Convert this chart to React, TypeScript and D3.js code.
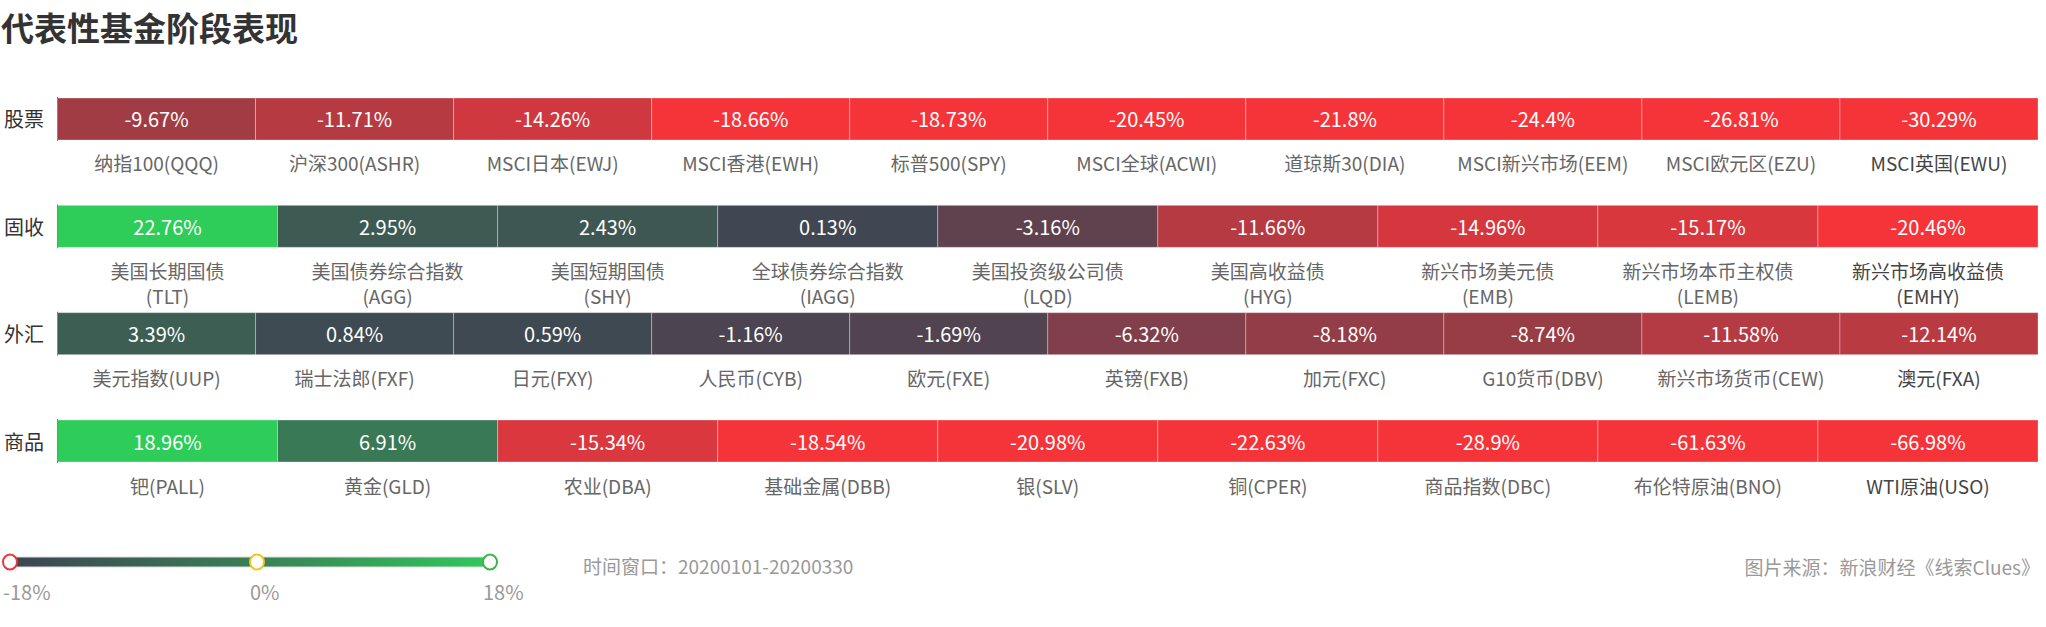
import React, { useEffect, useRef } from 'react';
import * as d3 from 'd3';

const rowNames = ['股票', '固收', '外汇', '商品'];

const stockLabels = ['纳指100(QQQ)', '沪深300(ASHR)', 'MSCI日本(EWJ)', 'MSCI香港(EWH)', '标普500(SPY)', 'MSCI全球(ACWI)', '道琼斯30(DIA)', 'MSCI新兴市场(EEM)', 'MSCI欧元区(EZU)', 'MSCI英国(EWU)'];
const stockValues = [-9.67, -11.71, -14.26, -18.66, -18.73, -20.45, -21.8, -24.4, -26.81, -30.29];

const bondLabels = ['美国长期国债\n(TLT)', '美国债券综合指数\n(AGG)', '美国短期国债\n(SHY)', '全球债券综合指数\n(IAGG)', '美国投资级公司债\n(LQD)', '美国高收益债\n(HYG)', '新兴市场美元债\n(EMB)', '新兴市场本币主权债\n(LEMB)', '新兴市场高收益债\n(EMHY)'];
const bondValues = [22.76, 2.95, 2.43, 0.13, -3.16, -11.66, -14.96, -15.17, -20.46];

const fxLabels = ['美元指数(UUP)', '瑞士法郎(FXF)', '日元(FXY)', '人民币(CYB)', '欧元(FXE)', '英镑(FXB)', '加元(FXC)', 'G10货币(DBV)', '新兴市场货币(CEW)', '澳元(FXA)'];
const fxValues = [3.39, 0.84, 0.59, -1.16, -1.69, -6.32, -8.18, -8.74, -11.58, -12.14];

const commodityLabels = ['钯(PALL)', '黄金(GLD)', '农业(DBA)', '基础金属(DBB)', '银(SLV)', '铜(CPER)', '商品指数(DBC)', '布伦特原油(BNO)', 'WTI原油(USO)'];
const commodityValues = [18.96, 6.91, -15.34, -18.54, -20.98, -22.63, -28.9, -61.63, -66.98];

const legendTicks = [-18, 0, 18];

const W = 2046;
const H = 627;
const FONT = '"Noto Sans CJK SC", "Noto Sans", sans-serif';

const App: React.FC = () => {
  const svgRef = useRef<SVGSVGElement>(null);

  useEffect(() => {
    const svg = d3.select(svgRef.current);
    svg.selectAll('*').remove();

    const rows = [
      { name: rowNames[0], labels: stockLabels, values: stockValues },
      { name: rowNames[1], labels: bondLabels, values: bondValues },
      { name: rowNames[2], labels: fxLabels, values: fxValues },
      { name: rowNames[3], labels: commodityLabels, values: commodityValues },
    ];

    const left = 57.5;
    const right = 2038;

    const yScale = d3.scaleBand<string>()
      .domain(rowNames)
      .range([98, 462])
      .paddingInner(0.6087)
      .paddingOuter(0);

    const color = d3.scaleLinear<string>()
      .domain([-18, 0, 18])
      .range(['#f5343a', '#404552', '#2ecc59'])
      .clamp(true);

    // title
    svg.append('text')
      .attr('x', 1)
      .attr('y', 27)
      .attr('dominant-baseline', 'central')
      .style('font-size', '33px')
      .style('font-weight', 'bold')
      .style('fill', '#333')
      .text('代表性基金阶段表现');

    rows.forEach(row => {
      const y0 = yScale(row.name) || 0;
      const bh = yScale.bandwidth();
      const xScale = d3.scaleBand<number>()
        .domain(d3.range(row.values.length))
        .range([left, right])
        .padding(0);

      const g = svg.append('g');

      // row name
      g.append('text')
        .attr('x', 4)
        .attr('y', y0 + bh / 2)
        .attr('dominant-baseline', 'central')
        .style('font-size', '20px')
        .style('fill', '#333')
        .text(row.name);

      const cells = g.selectAll('.cell')
        .data(row.values)
        .enter()
        .append('g')
        .attr('class', 'cell');

      cells.append('rect')
        .attr('x', (_, i) => xScale(i) || 0)
        .attr('y', y0)
        .attr('width', xScale.bandwidth())
        .attr('height', bh)
        .attr('fill', d => color(d))
        .attr('stroke', 'rgba(255,255,255,0.3)')
        .attr('stroke-width', 1);

      cells.append('text')
        .attr('x', (_, i) => (xScale(i) || 0) + xScale.bandwidth() / 2)
        .attr('y', y0 + bh / 2)
        .attr('text-anchor', 'middle')
        .attr('dominant-baseline', 'central')
        .style('font-size', '20px')
        .style('fill', '#fff')
        .text(d => `${d}%`);

      // category labels under the cells
      const labels = g.selectAll('.lab')
        .data(row.labels)
        .enter()
        .append('text')
        .attr('class', 'lab')
        .attr('text-anchor', 'middle')
        .style('font-size', '19px')
        .style('fill', (_, i) => (i === row.labels.length - 1 ? '#444' : '#666'));

      labels.each(function (d, i) {
        const parts = d.split('\n');
        const el = d3.select(this);
        parts.forEach((p, k) => {
          el.append('tspan')
            .attr('x', (xScale(i) || 0) + xScale.bandwidth() / 2)
            .attr('y', y0 + bh + 23 + k * 25)
            .attr('dominant-baseline', 'central')
            .text(p);
        });
      });

      // left axis line
      g.append('line')
        .attr('x1', left)
        .attr('x2', left)
        .attr('y1', y0 - 1)
        .attr('y2', y0 + bh + 1)
        .attr('stroke', '#888')
        .attr('stroke-width', 1);
    });

    // legend
    const legendX = d3.scaleLinear().domain([-18, 0, 18]).range([10, 257, 490]);
    const ly = 562;
    const defs = svg.append('defs');
    const grad = defs.append('linearGradient').attr('id', 'lg');
    grad.append('stop').attr('offset', '0%').attr('stop-color', '#3d4452');
    grad.append('stop').attr('offset', '51%').attr('stop-color', '#3a7f56');
    grad.append('stop').attr('offset', '100%').attr('stop-color', '#31c85b');

    svg.append('rect')
      .attr('x', legendX(-18))
      .attr('y', ly - 5)
      .attr('width', legendX(18) - legendX(-18))
      .attr('height', 10)
      .attr('fill', 'url(#lg)')
      .attr('stroke', '#ddd')
      .attr('stroke-width', 1);

    const handleColors = ['#e8373c', '#f5c518', '#3cb44b'];
    svg.selectAll('.handle')
      .data(legendTicks)
      .enter()
      .append('ellipse')
      .attr('class', 'handle')
      .attr('cx', d => legendX(d))
      .attr('cy', ly)
      .attr('rx', 7)
      .attr('ry', 7.5)
      .attr('fill', '#fff')
      .attr('stroke', (_, i) => handleColors[i])
      .attr('stroke-width', 2);

    svg.selectAll('.ltick')
      .data(legendTicks)
      .enter()
      .append('text')
      .attr('class', 'ltick')
      .attr('x', d => legendX(d) - 7)
      .attr('y', 591)
      .attr('dominant-baseline', 'central')
      .style('font-size', '20px')
      .style('fill', '#999')
      .text(d => `${d}%`);

    svg.append('text')
      .attr('x', 583)
      .attr('y', 565)
      .attr('dominant-baseline', 'central')
      .style('font-size', '19px')
      .style('fill', '#999')
      .text('时间窗口：20200101-20200330');

    svg.append('text')
      .attr('x', 2040)
      .attr('y', 566)
      .attr('text-anchor', 'end')
      .attr('dominant-baseline', 'central')
      .style('font-size', '19px')
      .style('fill', '#999')
      .text('图片来源：新浪财经《线索Clues》');
  }, []);

  return (
    <svg
      ref={svgRef}
      width={W}
      height={H}
      style={{ position: 'absolute', left: 0, top: 0, background: '#fff', fontFamily: FONT }}
    />
  );
};

export default App;
